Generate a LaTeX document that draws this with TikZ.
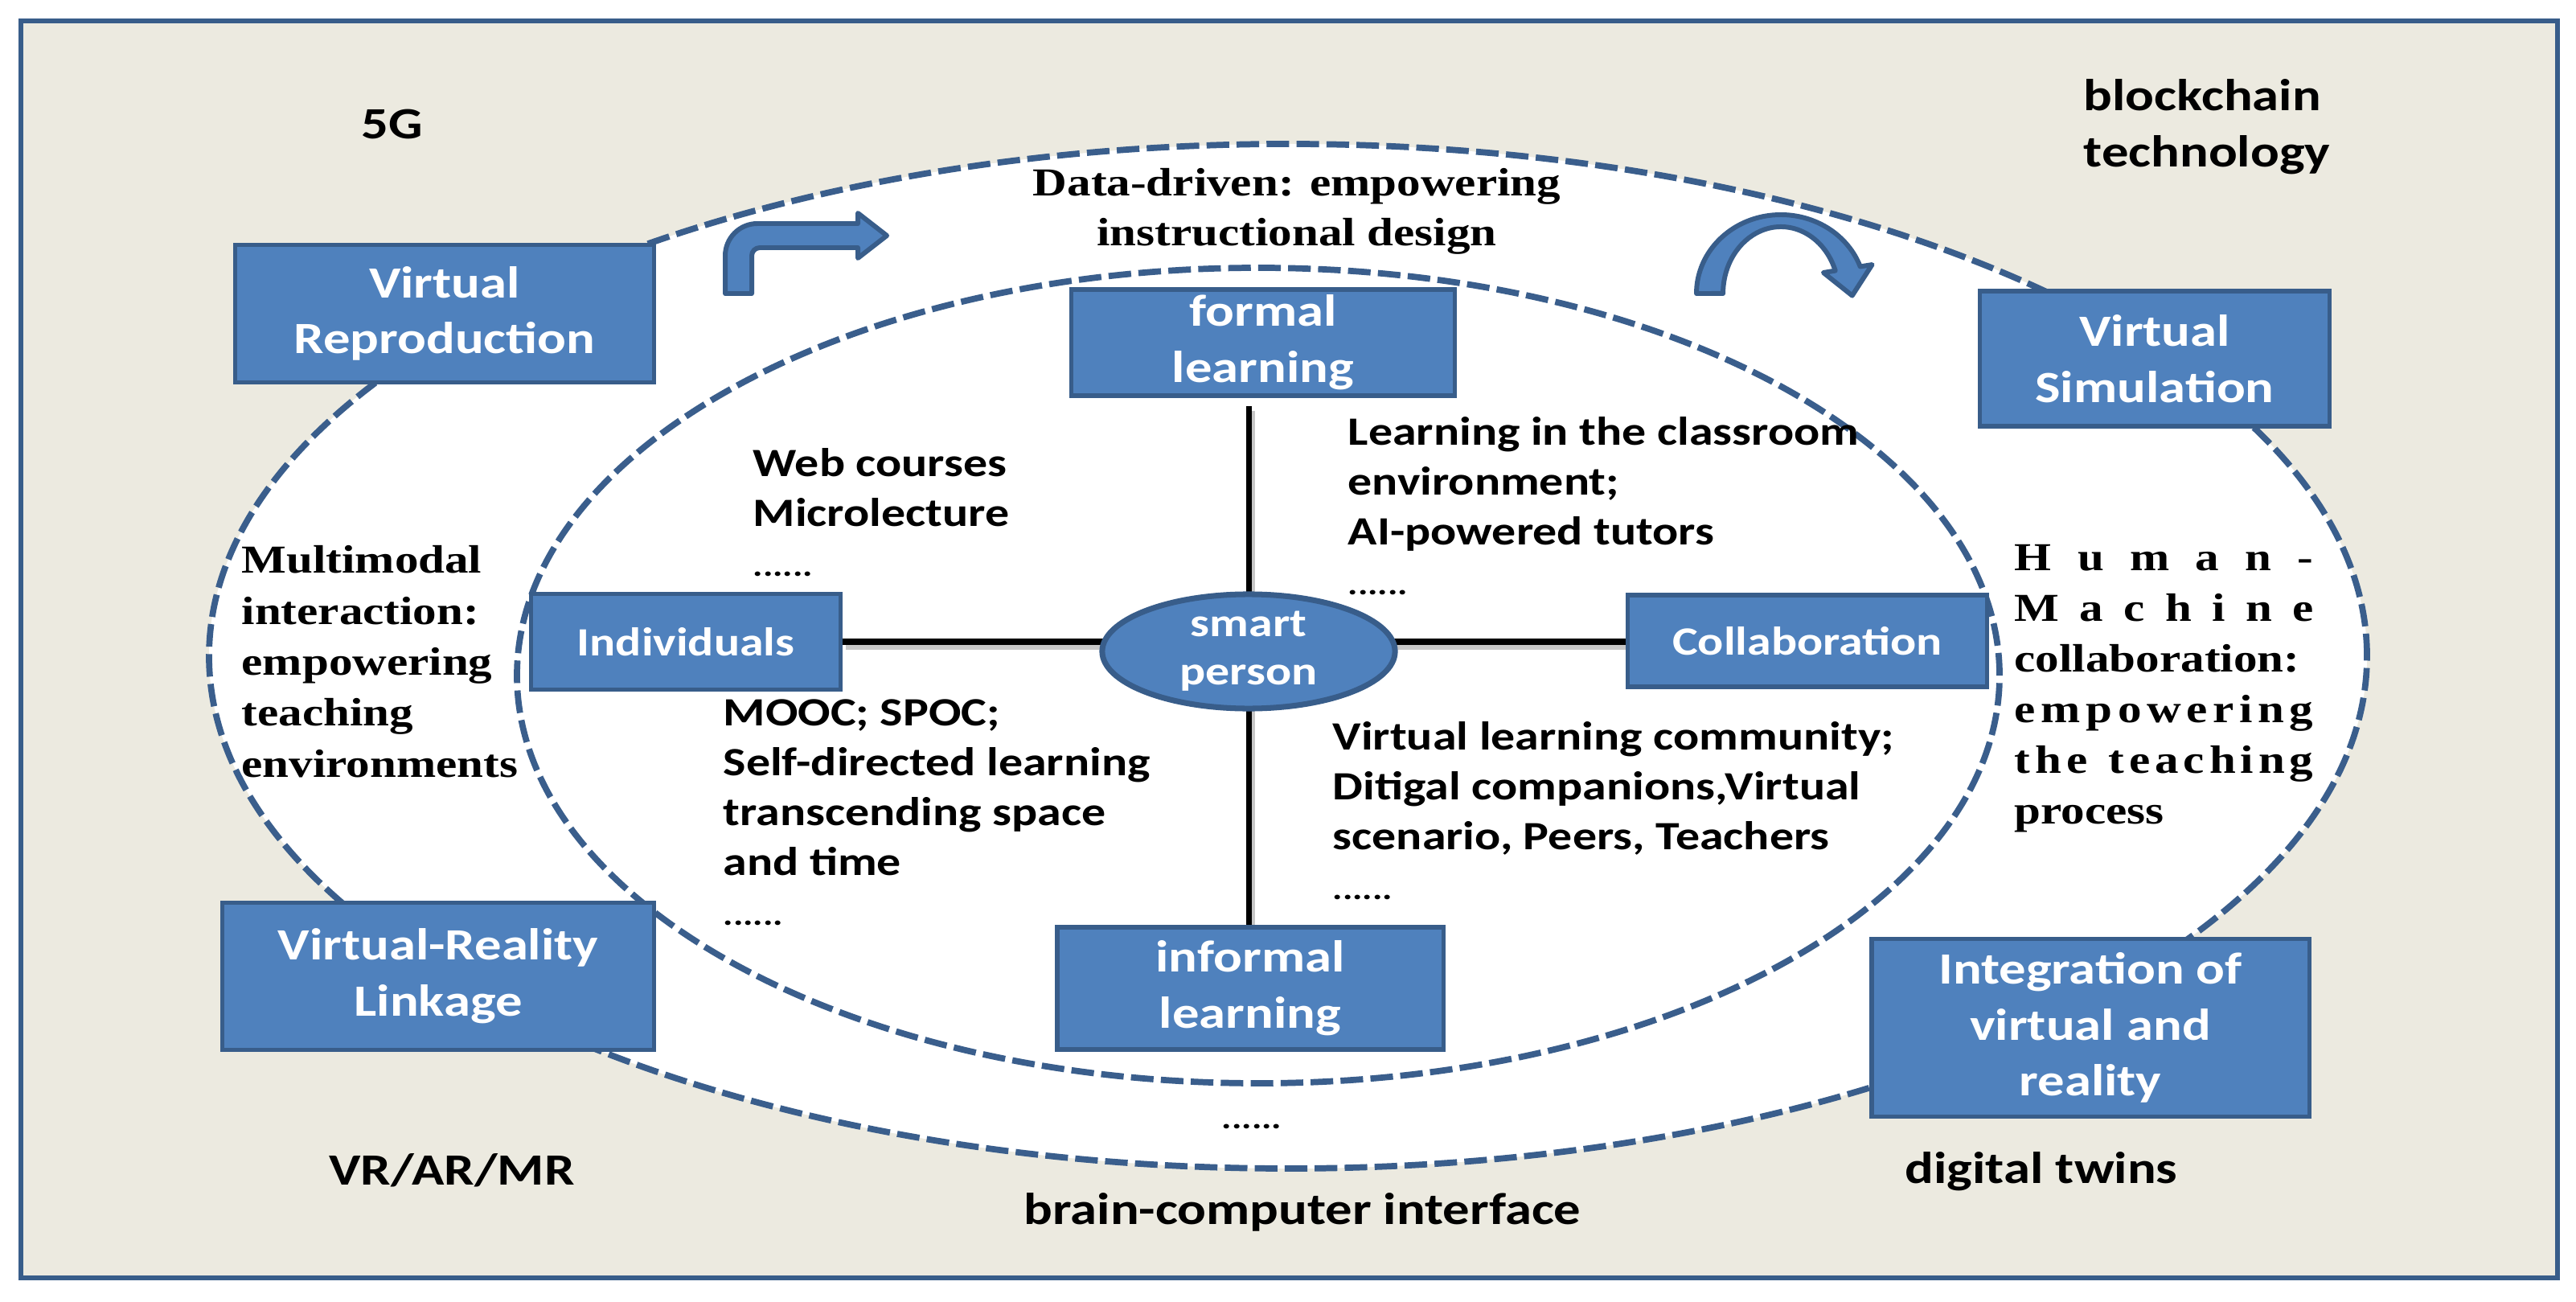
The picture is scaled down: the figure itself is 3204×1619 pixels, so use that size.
\documentclass[tikz,border=0pt]{standalone}
\usepackage{fontspec}
\newfontfamily\calb{Carlito}[FakeStretch=1.2]
\newfontfamily\tnr{Liberation Serif}[FakeStretch=1.2]
\usetikzlibrary{shapes.geometric}
\definecolor{boxfill}{RGB}{79,129,189}
\definecolor{boxline}{RGB}{56,93,138}
\definecolor{dashc}{RGB}{58,94,140}
\definecolor{beige}{RGB}{236,234,224}
\pgfdeclarelayer{back}
\pgfdeclarelayer{conn}
\pgfsetlayers{back,conn,main}
\newcommand\hmline[1]{\makebox[105.7pt][s]{#1}}
\newcommand\sixdots{{\fontsize{11}{13}\selectfont ......}}
\begin{document}
\begin{tikzpicture}[x=0.01cm,y=0.01cm,
  box/.style={draw=boxline, fill=boxfill, line width=1.5pt, text=white, align=center, inner sep=0pt, font=\fontsize{15.8}{19.8}\calb\bfseries},
  sbox/.style={box, font=\fontsize{14.2}{17.4}\calb\bfseries},
  lbl/.style={inner sep=0pt, font=\fontsize{15.8}{19.8}\calb\bfseries},
  itxt/.style={inner sep=0pt, align=left, font=\fontsize{14.2}{17.6}\calb\bfseries},
  ttxt/.style={inner sep=0pt, font=\fontsize{14}{17.6}\tnr\bfseries},
  dashring/.style={draw=dashc, line width=2.2pt, dash pattern=on 8pt off 2.6pt},
  bigarrow/.style={fill=boxfill, draw=boxline, line width=1.7pt, line join=round},
  cross/.style={line width=2pt, black},
  crossshadow/.style={line width=2.4pt, black!22},
]
\useasboundingbox (0,0) rectangle (3204,-1619);
\begin{pgfonlayer}{back}
  \fill[white] (0,0) rectangle (3204,-1619);
  \draw[draw=boxline, fill=beige, line width=1.7pt] (26,-26) rectangle (3181,-1589);
  \draw[dashring, fill=white] (1602,-816) ellipse [x radius=1342, y radius=637];
  \draw[dashring] (1565,-840) ellipse [x radius=922, y radius=507];
  % bent arrow
  \draw[bigarrow] (902,-365) -- (902,-318) arc[start angle=180, end angle=90, radius=40]
     -- (1067,-278) -- (1067,-265) -- (1103,-293) -- (1067,-321) -- (1067,-308)
     -- (945,-308) arc[start angle=90, end angle=180, radius=10] -- (935,-365) -- cycle;
  % curved arrow
  \draw[bigarrow] (2110,-365) arc[start angle=180, end angle=20, x radius=105, y radius=98]
     -- (2328.5,-329.1) -- (2303.7,-367.6) -- (2267.9,-339) -- (2282.7,-336.6)
     arc[start angle=20, end angle=180, x radius=72, y radius=83] -- cycle;
\end{pgfonlayer}

% boxes
\node[box, minimum width=5.2cm, minimum height=1.71cm] (vrep) at (553,-390) {Virtual\\Reproduction};
\node[box, minimum width=4.77cm, minimum height=1.32cm] (formal) at (1571,-426) {formal\\learning};
\node[box, minimum width=4.35cm, minimum height=1.68cm] (vsim) at (2680,-446) {Virtual\\Simulation};
\node[sbox, minimum width=3.85cm, minimum height=1.19cm] (indiv) at (853,-798) {Individuals};
\node[sbox, minimum width=4.47cm, minimum height=1.14cm] (collab) at (2248,-797) {Collaboration};
\node[box, minimum width=4.8cm, minimum height=1.52cm] (informal) at (1555,-1229) {informal\\learning};
\node[box, minimum width=5.36cm, minimum height=1.83cm] (vrlink) at (545,-1214) {Virtual-Reality\\Linkage};
\node[box, minimum width=5.44cm, minimum height=2.21cm] (integ) at (2600,-1278) {Integration of\\virtual and\\reality};
\node[ellipse, draw=boxline, fill=boxfill, line width=2pt, text=white, minimum width=3.64cm, minimum height=1.42cm, inner sep=0pt, align=center, font=\fontsize{14.2}{17}\calb\bfseries] (smart) at (1553,-810) {smart\\person};

% connectors
\begin{pgfonlayer}{conn}
  \draw[crossshadow, transform canvas={xshift=1.2pt,yshift=-1.6pt}] (indiv.east) -- (indiv.east -| collab.west);
  \draw[crossshadow, transform canvas={xshift=1.2pt,yshift=-1.6pt}, shorten <=3pt] (smart.center |- formal.south) -- (smart.center |- informal.north);
  \draw[cross] (indiv.east) -- (indiv.east -| collab.west);
  \draw[cross, shorten <=3pt] (smart.center |- formal.south) -- (smart.center |- informal.north);
\end{pgfonlayer}

% labels
\node[lbl, anchor=base] (g5) at (488,-173) {5G};
\node[lbl, anchor=north west, align=left] (block) at (2591,-98) {blockchain\\technology};
\node[ttxt, anchor=north, align=center] (datadriven) at (1613,-209) {Data-driven: empowering\\instructional design};
\node[ttxt, anchor=north west, align=left, font=\fontsize{14}{18}\tnr\bfseries] (multi) at (300,-678) {Multimodal\\interaction:\\empowering\\teaching\\environments};
\node[ttxt, anchor=north west, align=left, font=\fontsize{14}{17.9}\tnr\bfseries] (human) at (2505,-677)
  {\hmline{H\hfill u\hfill m\hfill a\hfill n\hfill -}\\
   \hmline{M\hfill a\hfill c\hfill h\hfill i\hfill n\hfill e}\\
   \hmline{collaboration:}\\
   \hmline{e\hfill m\hfill p\hfill o\hfill w\hfill e\hfill r\hfill i\hfill n\hfill g}\\
   \hmline{t\hfil h\hfil e\hfil\hskip0.3em\hfil t\hfil e\hfil a\hfil c\hfil h\hfil i\hfil n\hfil g}\\
   process};
\node[itxt, anchor=north west] (web) at (936,-557) {Web courses\\Microlecture\\\sixdots};
\node[itxt, anchor=north west] (classroom) at (1676,-518) {Learning in the classroom\\environment;\\AI-powered tutors\\\sixdots};
\node[itxt, anchor=north west] (mooc) at (899,-869) {MOOC; SPOC;\\Self-directed learning\\transcending space\\and time\\\sixdots};
\node[itxt, anchor=north west] (vlc) at (1657,-897) {Virtual learning community;\\Ditigal companions,Virtual\\scenario, Peers, Teachers\\\sixdots};
\node[lbl, anchor=base] (dots) at (1557,-1403) {\sixdots};
\node[lbl, anchor=base] (bci) at (1620,-1522) {brain-computer interface};
\node[lbl, anchor=base] (vrar) at (562,-1473) {VR/AR/MR};
\node[lbl, anchor=base] (twins) at (2539,-1471) {digital twins};
\end{tikzpicture}
\end{document}
